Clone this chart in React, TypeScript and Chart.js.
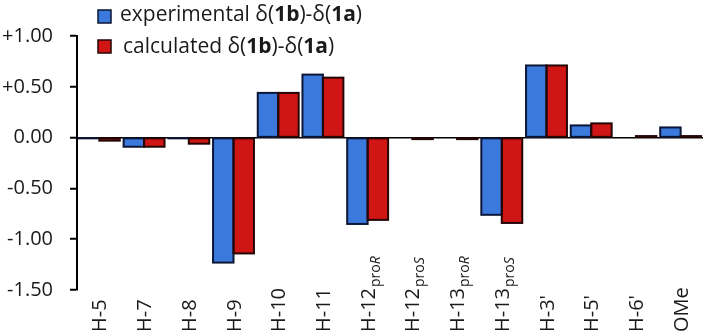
import React, { useEffect, useRef } from "react";
import { Chart, registerables } from "chart.js";

Chart.register(...registerables);

const categories = ["H-5", "H-7", "H-8", "H-9", "H-10", "H-11", "H-12proR", "H-12proS", "H-13proR", "H-13proS", "H-3'", "H-5'", "H-6'", "OMe"];
// label parts: main text, subscript, italic subscript letter
const labelMain = ["H-5", "H-7", "H-8", "H-9", "H-10", "H-11", "H-12", "H-12", "H-13", "H-13", "H-3'", "H-5'", "H-6'", "OMe"];
const labelSubPro = ["", "", "", "", "", "", "pro", "pro", "pro", "pro", "", "", "", ""];
const labelSubItalic = ["", "", "", "", "", "", "R", "S", "R", "S", "", "", "", ""];

const experimental = [-0.005, -0.09, -0.005, -1.23, 0.44, 0.62, -0.85, null, null, -0.76, 0.71, 0.12, null, 0.1];
const calculated = [-0.03, -0.09, -0.06, -1.14, 0.44, 0.59, -0.81, -0.015, -0.015, -0.84, 0.71, 0.14, 0.015, 0.015];

const yTicks = [-1.5, -1.0, -0.5, 0, 0.5, 1.0];

const FONT = "'Open Sans', sans-serif";
const BLUE = "#3b79dd";
const RED = "#d01515";
const BLUE_BORDER = "#0c1636";
const RED_BORDER = "#260505";
const borderColors = [BLUE_BORDER, RED_BORDER];

// Excel-like outlines centred on the bar edges
const outlinePlugin = {
  id: "barOutline",
  afterDatasetsDraw(chart: any) {
    const ctx = chart.ctx;
    ctx.save();
    ctx.lineWidth = 2;
    chart.data.datasets.forEach((ds: any, di: number) => {
      const meta = chart.getDatasetMeta(di);
      meta.data.forEach((el: any, i: number) => {
        if (ds.data[i] === null || ds.data[i] === undefined) return;
        const top = Math.min(el.y, el.base);
        const h = Math.abs(el.y - el.base);
        ctx.strokeStyle = borderColors[di];
        ctx.strokeRect(el.x - el.width / 2, top, el.width, h);
      });
    });
    ctx.restore();
  },
};

const customPlugin = {
  id: "customText",
  afterDraw(chart: any) {
    const ctx = chart.ctx;
    const xScale = chart.scales.x;
    ctx.save();
    ctx.fillStyle = "#1a1a1a";
    // rotated category labels
    categories.forEach((_, i) => {
      const x = xScale.getPixelForValue(i);
      ctx.save();
      ctx.translate(x, 332);
      ctx.rotate(-Math.PI / 2);
      ctx.textBaseline = "alphabetic";
      ctx.textAlign = "left";
      ctx.font = `20px ${FONT}`;
      let cx = 0;
      ctx.fillText(labelMain[i], cx, 7);
      cx += ctx.measureText(labelMain[i]).width;
      if (labelSubPro[i]) {
        ctx.font = `14px ${FONT}`;
        ctx.fillText(labelSubPro[i], cx + 1, 12);
        cx += ctx.measureText(labelSubPro[i]).width + 1;
        ctx.font = `italic 14px ${FONT}`;
        ctx.fillText(labelSubItalic[i], cx, 12);
      }
      ctx.restore();
    });
    // legend
    const items = [
      { fill: BLUE, border: BLUE_BORDER, base: 21, sq: 10, tx: 120, prefix: "experimental δ(" },
      { fill: RED, border: RED_BORDER, base: 53, sq: 40, tx: 123, prefix: "calculated δ(" },
    ];
    items.forEach((it) => {
      ctx.fillStyle = it.fill;
      ctx.fillRect(98, it.sq, 13, 13);
      ctx.strokeStyle = it.border;
      ctx.lineWidth = 1.5;
      ctx.strokeRect(98, it.sq, 13, 13);
      ctx.fillStyle = "#1a1a1a";
      ctx.textBaseline = "alphabetic";
      ctx.textAlign = "left";
      const parts: [string, boolean][] = [
        [it.prefix, false],
        ["1b", true],
        [")-δ(", false],
        ["1a", true],
        [")", false],
      ];
      let x = it.tx;
      parts.forEach(([t, b]) => {
        ctx.font = `${b ? "bold " : ""}21px ${FONT}`;
        ctx.fillText(t, x, it.base);
        x += ctx.measureText(t).width;
      });
    });
    ctx.restore();
  },
};

export default function App() {
  const ref = useRef<HTMLCanvasElement>(null);
  useEffect(() => {
    if (!ref.current) return;
    const chart = new Chart(ref.current, {
      type: "bar",
      data: {
        labels: categories,
        datasets: [
          {
            label: "experimental δ(1b)-δ(1a)",
            data: experimental,
            backgroundColor: BLUE,
            borderWidth: 0,
            categoryPercentage: 0.915,
            barPercentage: 1.0,
          },
          {
            label: "calculated δ(1b)-δ(1a)",
            data: calculated,
            backgroundColor: RED,
            borderWidth: 0,
            categoryPercentage: 0.915,
            barPercentage: 1.0,
          },
        ],
      },
      options: {
        responsive: false,
        maintainAspectRatio: false,
        animation: false,
        layout: { padding: { top: 36, right: 2, left: 0, bottom: 0 } },
        plugins: { legend: { display: false }, tooltip: { enabled: false } },
        scales: {
          x: {
            ticks: { display: false },
            grid: { display: false },
            border: { display: false },
            afterFit: (s: any) => {
              s.height = 41;
            },
          },
          y: {
            min: -1.5,
            max: 1.0,
            afterBuildTicks: (s: any) => {
              s.ticks = yTicks.map((v) => ({ value: v }));
            },
            ticks: {
              padding: 17,
              color: "#1a1a1a",
              font: { family: FONT, size: 20 },
              callback: (v: any) => {
                const n = Number(v);
                return n > 0 ? "+" + n.toFixed(2) : n.toFixed(2);
              },
            },
            grid: {
              drawOnChartArea: true,
              color: (c: any) => (c.tick && c.tick.value === 0 ? "#000" : "rgba(0,0,0,0)"),
              lineWidth: 1.5,
              tickColor: "#000",
              tickLength: 7,
              tickWidth: 2,
            },
            border: { display: true, color: "#000", width: 2 },
            afterFit: (s: any) => {
              s.width = 77;
            },
          },
        },
      },
      plugins: [outlinePlugin, customPlugin],
    });
    return () => chart.destroy();
  }, []);
  return (
    <div style={{ position: "fixed", left: 0, top: 0, width: 705, height: 331, background: "#fff" }}>
      <canvas ref={ref} width={705} height={331} />
    </div>
  );
}
